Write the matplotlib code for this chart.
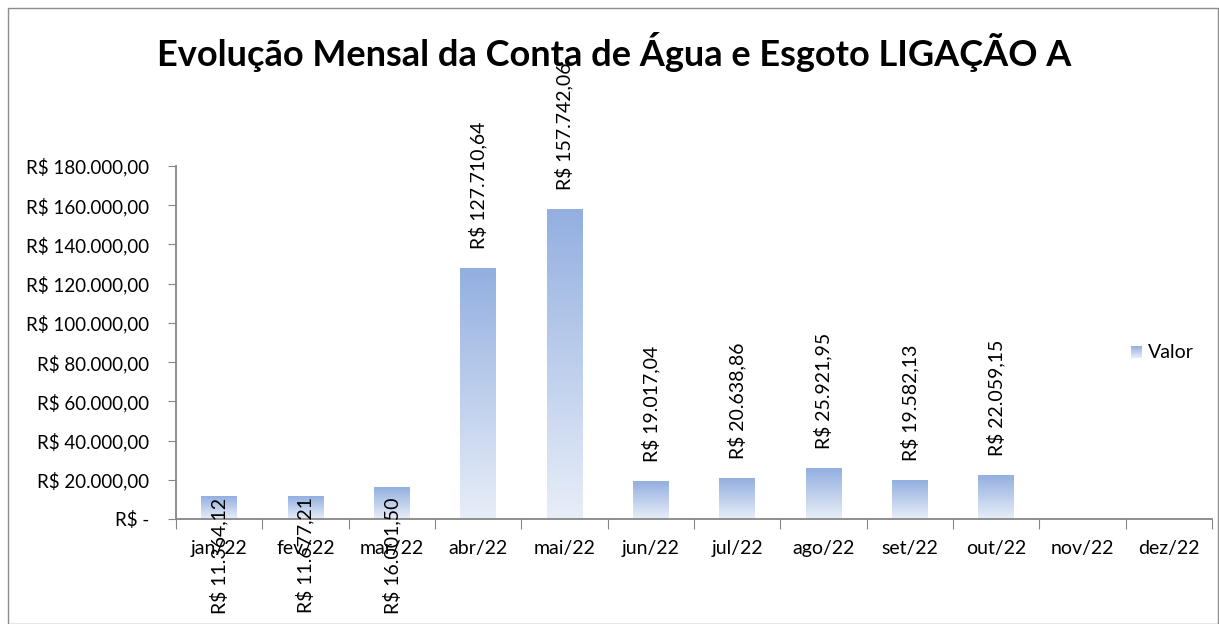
import matplotlib
matplotlib.use("Agg")
import matplotlib.pyplot as plt
import numpy as np
from matplotlib.patches import Rectangle

months = ["jan/22", "fev/22", "mar/22", "abr/22", "mai/22", "jun/22",
          "jul/22", "ago/22", "set/22", "out/22", "nov/22", "dez/22"]
values = [11364.12, 11677.21, 16001.50, 127710.64, 157742.06, 19017.04,
          20638.86, 25921.95, 19582.13, 22059.15, None, None]
yticks = list(range(0, 180001, 20000))
title = "Evolução Mensal da Conta de Água e Esgoto LIGAÇÃO A"


def brl(v):
    s = f"{v:,.2f}".replace(",", "X").replace(".", ",").replace("X", ".")
    return "R$ " + s


def ytick_fmt(v):
    return "R$ -" if v == 0 else brl(v)


FAM = ['Lato', 'DejaVu Sans']
plt.rcParams['font.family'] = FAM
FS = 14
W, H = 1219, 624
fig = plt.figure(figsize=(W / 100, H / 100), dpi=100)
fig.patches.append(Rectangle((8 / W, 0), (W - 9) / W, 1 - 8 / H, transform=fig.transFigure,
                             fill=False, edgecolor="#8c8c8c", lw=1))
ax = fig.add_axes([176 / W, 1 - 519 / H, (1212 - 176) / W, (519 - 166) / H])

n = len(months)
top_c = np.array([0x93, 0xAF, 0xE0]) / 255
bot_c = np.array([0xE8, 0xEE, 0xF8]) / 255
grad = np.linspace(0, 1, 256)[:, None]
img = bot_c[None, None, :] * (1 - grad[..., None]) + top_c[None, None, :] * grad[..., None]
bw = 0.41
for i, v in enumerate(values):
    if v is None:
        continue
    x0 = i + 0.5 - bw / 2
    ax.imshow(img, extent=(x0, x0 + bw, 0, v), origin="lower", aspect="auto", zorder=2)
    lbl = brl(v)
    if v < 18000:
        ax.text(i + 0.5, 11000, lbl, rotation=90, ha="center", va="top", fontsize=FS,
                zorder=5, clip_on=False)
    else:
        ax.annotate(lbl, (i + 0.5, v), xytext=(0, 14), textcoords="offset points",
                    rotation=90, ha="center", va="bottom", fontsize=FS, zorder=5,
                    annotation_clip=False)
ax.set_xlim(0, n)
ax.set_ylim(0, 180000)

ax.set_xticks(np.arange(n + 1))
ax.set_xticklabels([])
ax.set_xticks(np.arange(n) + 0.5, minor=True)
ax.set_xticklabels(months, minor=True, fontsize=FS)
ax.tick_params(axis="x", which="major", length=7, color="#868686", direction="out")
ax.tick_params(axis="x", which="minor", length=0, pad=15)
ax.set_yticks(yticks)
ax.set_yticklabels([ytick_fmt(v) for v in yticks], fontsize=13.5)
ax.tick_params(axis="y", length=6, color="#868686", direction="out", pad=13)
for s in ["top", "right"]:
    ax.spines[s].set_visible(False)
for s in ["left", "bottom"]:
    ax.spines[s].set_color("#868686")
    ax.spines[s].set_linewidth(1.3)

fig.text(614 / W, 1 - 52 / H, title, ha="center", va="center", fontsize=26, fontweight="bold")

# legend
lax = fig.add_axes([1131 / W, 1 - 358 / H, 11 / W, 12 / H])
lax.imshow(img, extent=(0, 1, 0, 1), origin="lower", aspect="auto")
lax.axis("off")
fig.text(1148 / W, 1 - 352 / H, "Valor", ha="left", va="center", fontsize=FS)

fig.savefig("out.png", dpi=100)
